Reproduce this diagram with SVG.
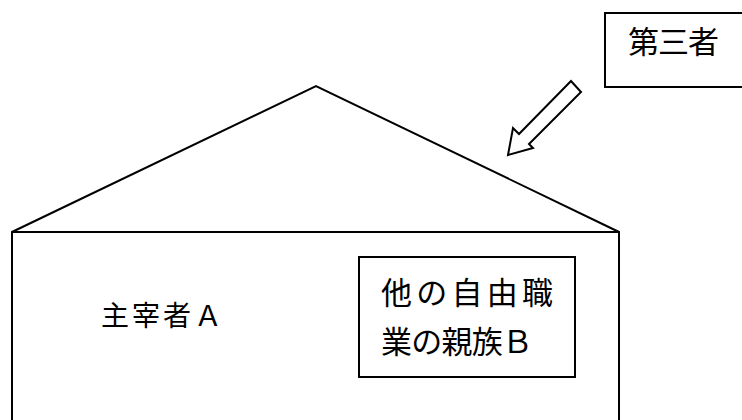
<svg xmlns="http://www.w3.org/2000/svg" width="742" height="420" viewBox="0 0 742 420">
<style>
.ln{fill:none;stroke:#000;stroke-width:2;stroke-linejoin:miter}
.bx{fill:#fff;stroke:#000;stroke-width:2}
.t{font-family:"Noto Sans CJK JP","Noto Sans CJK SC",sans-serif;fill:#000;font-weight:400}
</style>
<rect width="742" height="420" fill="#fff"/>
<g id="house">
<polyline class="ln" points="12,420 12,232 316,86 619,232 619,420"/>
<line class="ln" x1="12" y1="232" x2="619" y2="232"/>
</g>
<g id="nodeA">
<text class="t" x="101" y="326" font-size="28" textLength="121" lengthAdjust="spacing">主宰者Ａ</text>
</g>
<g id="nodeB">
<rect class="bx" x="359" y="257" width="216" height="120"/>
<text class="t" x="381" y="304" font-size="31" textLength="172" lengthAdjust="spacing">他の自由職</text>
<text class="t" x="381" y="353" font-size="31" textLength="152" lengthAdjust="spacing">業の親族Ｂ</text>
</g>
<g id="third">
<rect class="bx" x="605" y="13" width="145" height="74"/>
<text class="t" x="628" y="53" font-size="31" textLength="91" lengthAdjust="spacing">第三者</text>
</g>
<g id="connectors">
<polygon class="bx" points="508,155 513,128 519,134 571,81 581,92 529,144 533,148"/>
</g>
</svg>
